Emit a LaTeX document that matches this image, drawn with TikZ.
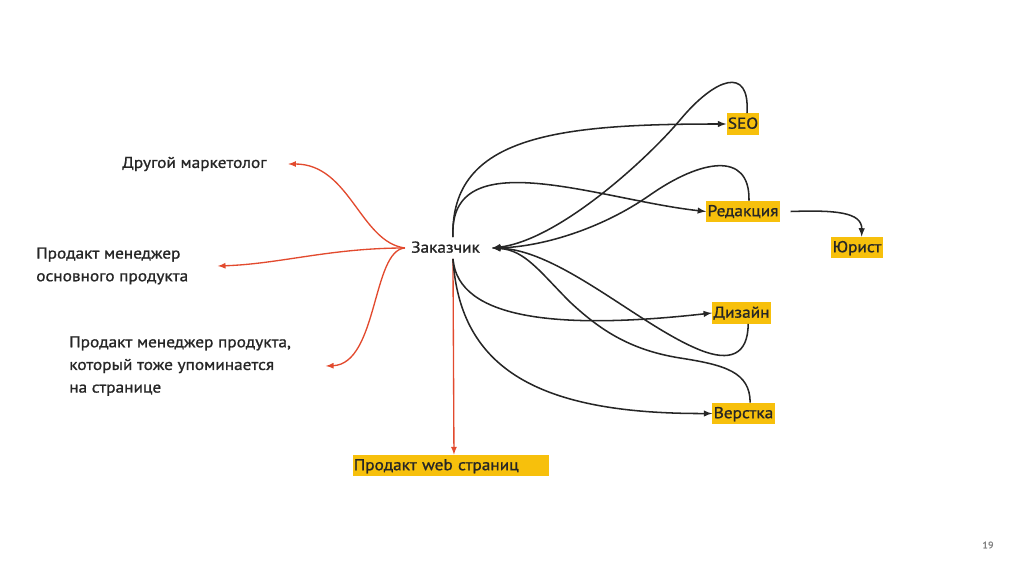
\documentclass[tikz,border=0pt]{standalone}
\usepackage{fontspec}
\setmainfont{PT Sans}[FakeStretch=1.1, FakeBold=1.1]
\usetikzlibrary{positioning}
\definecolor{gold}{HTML}{F7C00C}
\definecolor{ink}{HTML}{262626}
\definecolor{tomato}{HTML}{E24A2E}
\tikzset{
  box/.style={fill=gold, text=ink, inner xsep=1pt, inner ysep=2pt, text height=9.5pt, text depth=2.5pt},
  lbl/.style={text=ink, align=left, anchor=west, inner sep=0pt},
  redline/.style={draw=tomato, line width=1pt, ->},
  blkline/.style={draw=ink, line width=1.15pt, ->}
}

\begin{document}
\begin{tikzpicture}[x=0.75pt, y=-0.75pt, >=latex, font=\fontsize{11.8}{17}\selectfont]
  \useasboundingbox (0,0) rectangle (1024,577);
  % nodes
  \node (zak) at (445.5,248) [text=ink, inner xsep=4.5pt, inner ysep=2pt, text height=9.5pt, text depth=2.5pt] {Заказчик};
  \node (seo) at (743,124) [box] {SEO};
  \node (red) at (743,211.5) [box] {Редакция};
  \node (jur) at (857,247.5) [box] {Юрист};
  \node (diz) at (741.5,313) [box] {Дизайн};
  \node (ver) at (743.5,413.5) [box] {Верстка};
  \node (web) at (450.5,465.5) [box, text width=145pt, align=left] {Продакт web страниц};
  \node (mark) at (122,164) [lbl] {Другой маркетолог};
  \node (pm1) at (36,266) [lbl] {Продакт менеджер\\основного продукта};
  \node (pm2) at (69,366) [lbl] {Продакт менеджер продукта,\\который тоже упоминается\\на странице};
  \node (page) at (988,545) [text=gray, font=\fontsize{7}{8}\selectfont] {19};

  % red arrows
  \draw [redline] (zak.west) .. controls (360,242) and (350,164) .. ([xshift=16pt]mark.east);
  \draw [redline] (zak.west) .. controls (330,248) and (280,264) .. ([xshift=22pt]pm1.east);
  \draw [redline] (zak.west) .. controls (372,250) and (378,364) .. ([xshift=26pt]pm2.east);
  \draw [redline] ([xshift=5.6pt]zak.south) -- ([xshift=2.6pt]web.north);

  % black arrows out
  \draw [blkline] ([xshift=5.6pt]zak.north) .. controls (450,135) and (560,124) .. (seo.west);
  \draw [blkline] ([xshift=5.6pt]zak.north) .. controls (448,140) and (600,200) .. (red.west);
  \draw [blkline] ([xshift=5.6pt]zak.south) .. controls (458,320) and (560,330) .. (diz.west);
  \draw [blkline] ([xshift=5.6pt]zak.south) .. controls (460,370) and (540,414) .. (ver.west);
  \draw [blkline] ([xshift=8pt]red.east) .. controls (835,210) and (862,212) .. ([xshift=3.5pt]jur.north);

  % black arrows back
  \draw [blkline] ([xshift=3pt]seo.north) .. controls (750,65) and (715,78) .. (680,120)
    .. controls (650,156) and (560,240) .. ([xshift=4.5pt]zak.east);
  \draw [blkline] ([xshift=4.5pt]red.north) .. controls (750,150) and (700,160) .. (650,195)
    .. controls (600,230) and (540,247) .. ([xshift=4.5pt]zak.east);
  \draw [blkline] ([xshift=5pt]diz.south) .. controls (748,355) and (730,362) .. (700,350)
    .. controls (640,326) and (560,250) .. ([xshift=4.5pt]zak.east);
  \draw [blkline] ([xshift=5pt]ver.north) .. controls (750,372) and (725,365) .. (680,358)
    .. controls (630,350) and (600,330) .. (570,302)
    .. controls (540,272) and (525,250) .. ([xshift=4.5pt]zak.east);
\end{tikzpicture}
\end{document}
